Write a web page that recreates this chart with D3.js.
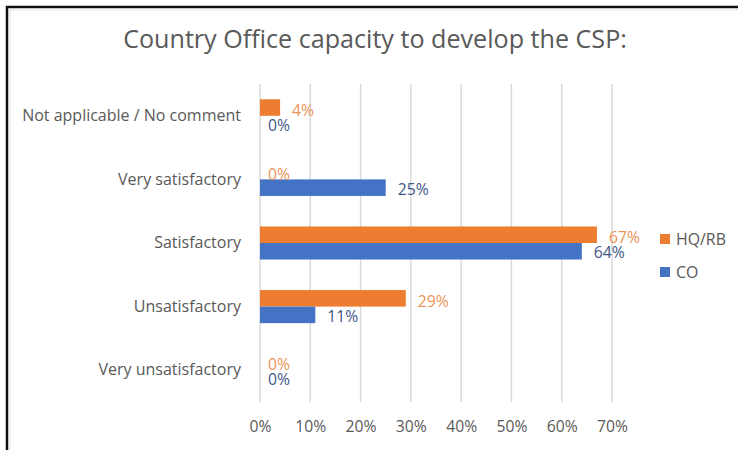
<!DOCTYPE html>
<html>
<head>
<meta charset="utf-8">
<script src="https://cdn.jsdelivr.net/npm/d3@7"></script>
<style>
  html, body { margin: 0; padding: 0; background: #fff; }
  svg { display: block; }
  text { font-family: "Open Sans", "Noto Sans", sans-serif; }
</style>
</head>
<body>
<svg id="chart" width="738" height="450"></svg>
<script>
// Survey responses, listed top to bottom as shown on the axis
const categories = [
  "Not applicable / No comment",
  "Very satisfactory",
  "Satisfactory",
  "Unsatisfactory",
  "Very unsatisfactory"
];
const seriesNames = ["HQ/RB", "CO"];
const hqrbValues = [0.04, 0.00, 0.67, 0.29, 0.00];
const coValues   = [0.00, 0.25, 0.64, 0.11, 0.00];
const tickValues = [0, 0.1, 0.2, 0.3, 0.4, 0.5, 0.6, 0.7];
const titleText = "Country Office capacity to develop the CSP:";

const barColors   = { "HQ/RB": "#ED7D31", "CO": "#4472C4" };
const labelColors = { "HQ/RB": "#EC9257", "CO": "#3E5787" };
// value labels sit a little toward the middle of each pair
const labelShift  = { "HQ/RB": 3, "CO": 1.5 };
const textGrey = "#595959";
const pct = d3.format(".0%");

const svg = d3.select("#chart");

// Font size that makes `sample` span `width` pixels
function fitSize(sample, width) {
  const t = svg.append("text").attr("font-size", 20).text(sample);
  const w = t.node().getComputedTextLength();
  t.remove();
  return 20 * width / w;
}
const titleSize  = fitSize(titleText, 504);
const catSize    = fitSize("Not applicable / No comment", 219);
const tickSize   = fitSize("30%", 31);
const valueSize  = fitSize("25%", 31);
const legendSize = fitSize("HQ/RB", 50);

// Frame: heavy rule along the top and left edge
svg.append("path")
  .attr("d", "M7,450 V7 H738")
  .attr("fill", "none")
  .attr("stroke", "#111")
  .attr("stroke-width", 2.5);
svg.append("path")
  .attr("d", "M10,450 V10 H738")
  .attr("fill", "none")
  .attr("stroke", "#e4e4e4")
  .attr("stroke-width", 1);

const x = d3.scaleLinear().domain([0, 0.7]).range([260, 612]);
const y = d3.scaleBand().domain(categories).range([84, 402])
  .paddingInner(0.48).paddingOuter(0.24);
const ySub = d3.scaleBand().domain(seriesNames).range([0, y.bandwidth()]);

const rows = categories.map((c, i) => ({
  category: c,
  values: [
    { series: "HQ/RB", value: hqrbValues[i] },
    { series: "CO", value: coValues[i] }
  ]
}));

// Title
svg.append("text")
  .attr("x", 375).attr("y", 48)
  .attr("text-anchor", "middle")
  .attr("fill", textGrey)
  .attr("font-size", titleSize)
  .text(titleText);

// Vertical gridlines
svg.append("g")
  .selectAll("line")
  .data(tickValues)
  .join("line")
  .attr("x1", d => x(d)).attr("x2", d => x(d))
  .attr("y1", 84).attr("y2", 402)
  .attr("stroke", "#d9d9d9")
  .attr("stroke-width", 1.5);

// Bottom axis labels
const xAxis = d3.axisBottom(x)
  .tickValues(tickValues)
  .tickFormat(pct)
  .tickSize(0)
  .tickPadding(0);
const gx = svg.append("g")
  .attr("transform", "translate(0,421)")
  .call(xAxis);
gx.select(".domain").remove();
gx.attr("font-family", null).attr("font-size", null);
gx.selectAll("text")
  .attr("fill", textGrey)
  .attr("font-size", tickSize);

// Category axis labels
const yAxis = d3.axisLeft(y).tickSize(0).tickPadding(0);
const gy = svg.append("g")
  .attr("transform", "translate(241,0)")
  .call(yAxis);
gy.select(".domain").remove();
gy.attr("font-family", null).attr("font-size", null);
gy.selectAll("text")
  .attr("fill", textGrey)
  .attr("font-size", catSize);

// Bars and value labels
const groups = svg.append("g")
  .selectAll("g")
  .data(rows)
  .join("g")
  .attr("transform", d => `translate(0,${y(d.category)})`);

groups.selectAll("rect")
  .data(d => d.values)
  .join("rect")
  .attr("x", x(0))
  .attr("y", d => ySub(d.series))
  .attr("width", d => x(d.value) - x(0))
  .attr("height", ySub.bandwidth())
  .attr("fill", d => barColors[d.series]);

groups.selectAll("text.val")
  .data(d => d.values)
  .join("text")
  .attr("class", "val")
  .attr("x", d => x(d.value) + (d.value === 0 ? 8 : 12))
  .attr("y", d => ySub(d.series) + ySub.bandwidth() / 2 + labelShift[d.series])
  .attr("dy", "0.35em")
  .attr("fill", d => labelColors[d.series])
  .attr("font-size", valueSize)
  .text(d => pct(d.value));

// Legend
const legend = svg.append("g")
  .selectAll("g")
  .data(seriesNames)
  .join("g")
  .attr("transform", (d, i) => `translate(660,${239 + i * 33})`);
legend.append("rect")
  .attr("x", 0).attr("y", -5)
  .attr("width", 10).attr("height", 10)
  .attr("fill", d => barColors[d]);
legend.append("text")
  .attr("x", 16).attr("y", 0)
  .attr("dy", "0.35em")
  .attr("fill", textGrey)
  .attr("font-size", legendSize)
  .text(d => d);
</script>
</body>
</html>
